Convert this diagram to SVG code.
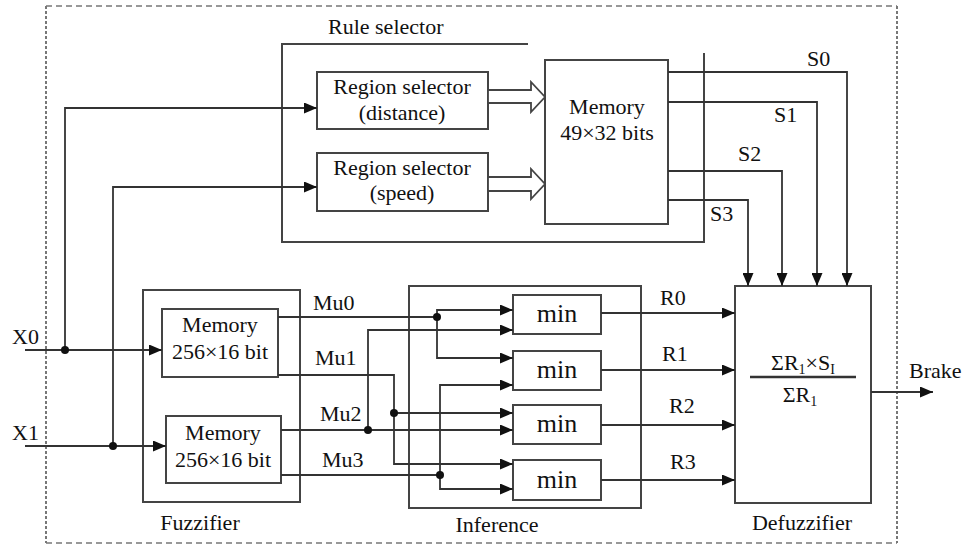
<svg xmlns="http://www.w3.org/2000/svg" width="964" height="546" viewBox="0 0 964 546">
<style>
.box{fill:none;stroke:#444;stroke-width:2}
.ln{fill:none;stroke:#333;stroke-width:1.8}
.ar{fill:none;stroke:#333;stroke-width:1.8;marker-end:url(#ah)}
.t{font-family:"Liberation Serif","Times New Roman",serif;font-size:22px;fill:#111}
.c{text-anchor:middle}
.m{font-size:26px}
.dot{fill:#111}
</style>
<defs>
<marker id="ah" markerUnits="userSpaceOnUse" markerWidth="13" markerHeight="11" refX="13" refY="5.5" orient="auto">
<path d="M0,0 L13,5.5 L0,11 z" fill="#111"/>
</marker>
</defs>
<rect width="964" height="546" fill="#fff"/>
<g id="frame">
<line x1="46" y1="6" x2="897" y2="6" stroke="#777" stroke-width="1.5" stroke-dasharray="6,4"/>
<line x1="46" y1="543" x2="897" y2="543" stroke="#777" stroke-width="1.5" stroke-dasharray="6,4"/>
<line x1="46" y1="6" x2="46" y2="543" stroke="#777" stroke-width="2" stroke-dasharray="3,2"/>
<line x1="897" y1="6" x2="897" y2="543" stroke="#777" stroke-width="2" stroke-dasharray="3,2"/>
</g>
<g id="rule-selector">
<path class="box" d="M528,44 H282 V242 H704 V53"/>
<text class="t" x="328" y="34">Rule selector</text>
</g>
<g id="region-distance">
<rect class="box" x="317" y="72" width="171" height="57"/>
<text class="t c" x="402" y="94">Region selector</text>
<text class="t c" x="402" y="120">(distance)</text>
</g>
<g id="region-speed">
<rect class="box" x="317" y="153" width="171" height="58"/>
<text class="t c" x="402" y="175">Region selector</text>
<text class="t c" x="402" y="200">(speed)</text>
</g>
<g id="memory-rules">
<rect class="box" x="545" y="60" width="123" height="164"/>
<text class="t c" x="607" y="114">Memory</text>
<text class="t c" x="607" y="140">49×32 bits</text>
</g>
<g id="fuzzifier">
<rect class="box" x="143" y="290" width="157" height="212"/>
<text class="t c" x="200" y="530">Fuzzifier</text>
</g>
<g id="memory-x0">
<rect class="box" x="162" y="309" width="116" height="68"/>
<text class="t c" x="220" y="332">Memory</text>
<text class="t c" x="220" y="359">256×16 bit</text>
</g>
<g id="memory-x1">
<rect class="box" x="166" y="416" width="115" height="67"/>
<text class="t c" x="223" y="440">Memory</text>
<text class="t c" x="223" y="467">256×16 bit</text>
</g>
<g id="inference">
<rect class="box" x="409" y="286" width="232" height="222"/>
<text class="t c" x="497" y="532">Inference</text>
</g>
<g id="min0"><rect class="box" x="513" y="295" width="88" height="39"/><text class="t c m" x="557" y="322">min</text></g>
<g id="min1"><rect class="box" x="513" y="351" width="88" height="39"/><text class="t c m" x="557" y="378">min</text></g>
<g id="min2"><rect class="box" x="513" y="405" width="88" height="39"/><text class="t c m" x="557" y="432">min</text></g>
<g id="min3"><rect class="box" x="513" y="460" width="88" height="40"/><text class="t c m" x="557" y="488">min</text></g>
<g id="defuzzifier">
<rect class="box" x="735" y="286" width="136" height="217"/>
<text class="t c" x="803" y="370">ΣR<tspan font-size="14" dy="4">1</tspan><tspan dy="-4">×S</tspan><tspan font-size="14" dy="4">I</tspan></text>
<line x1="750" y1="377" x2="856" y2="377" stroke="#333" stroke-width="2.5"/>
<text class="t c" x="800" y="402">ΣR<tspan font-size="14" dy="4">1</tspan></text>
<text class="t c" x="802" y="530">Defuzzifier</text>
</g>
<g id="connectors">
<!-- inputs -->
<line class="ar" x1="25" y1="350" x2="162" y2="350"/>
<line class="ar" x1="25" y1="446" x2="166" y2="446"/>
<path class="ar" d="M65,350 V108 H317"/>
<path class="ar" d="M113,446 V187 H317"/>
<circle class="dot" cx="65" cy="350" r="4"/>
<circle class="dot" cx="113" cy="446" r="4"/>
<!-- hollow bus arrows -->
<polygon points="488,90 531,90 531,82 545,97 531,112 531,103 488,103" fill="#fff" stroke="#444" stroke-width="1.8"/>
<polygon points="488,177 531,177 531,169 545,184 531,199 531,191 488,191" fill="#fff" stroke="#444" stroke-width="1.8"/>
<!-- S lines -->
<path class="ar" d="M668,72 H847 V286"/>
<path class="ar" d="M668,102 H817 V286"/>
<path class="ar" d="M668,171 H782 V286"/>
<path class="ar" d="M668,200 H748 V286"/>
<!-- Mu lines -->
<path class="ln" d="M278,317 H437"/>
<path class="ar" d="M437,317 V310 H513"/>
<path class="ar" d="M437,317 V358 H513"/>
<circle class="dot" cx="437" cy="317" r="4"/>
<path class="ar" d="M278,375 H394 V464 H513"/>
<path class="ar" d="M394,413 H513"/>
<circle class="dot" cx="394" cy="413" r="4"/>
<path class="ar" d="M281,430 H513"/>
<path class="ar" d="M368,430 V330 H513"/>
<circle class="dot" cx="368" cy="430" r="4"/>
<path class="ln" d="M281,475 H440"/>
<path class="ar" d="M440,475 V385 H513"/>
<path class="ar" d="M440,475 V489 H513"/>
<circle class="dot" cx="440" cy="475" r="4"/>
<!-- R lines -->
<line class="ar" x1="601" y1="313" x2="735" y2="313"/>
<line class="ar" x1="601" y1="370" x2="735" y2="370"/>
<line class="ar" x1="601" y1="425" x2="735" y2="425"/>
<line class="ar" x1="601" y1="480" x2="735" y2="480"/>
<!-- output -->
<line class="ar" x1="871" y1="392" x2="933" y2="392"/>
</g>
<g id="labels">
<text class="t" x="12" y="344">X0</text>
<text class="t" x="12" y="440">X1</text>
<text class="t" x="313" y="310">Mu0</text>
<text class="t" x="315" y="365">Mu1</text>
<text class="t" x="320" y="421">Mu2</text>
<text class="t" x="322" y="467">Mu3</text>
<text class="t" x="807" y="66">S0</text>
<text class="t" x="774" y="122">S1</text>
<text class="t" x="738" y="161">S2</text>
<text class="t" x="710" y="221">S3</text>
<text class="t" x="660" y="305">R0</text>
<text class="t" x="662" y="361">R1</text>
<text class="t" x="669" y="413">R2</text>
<text class="t" x="670" y="469">R3</text>
<text class="t" x="909" y="378">Brake</text>
</g>
</svg>
